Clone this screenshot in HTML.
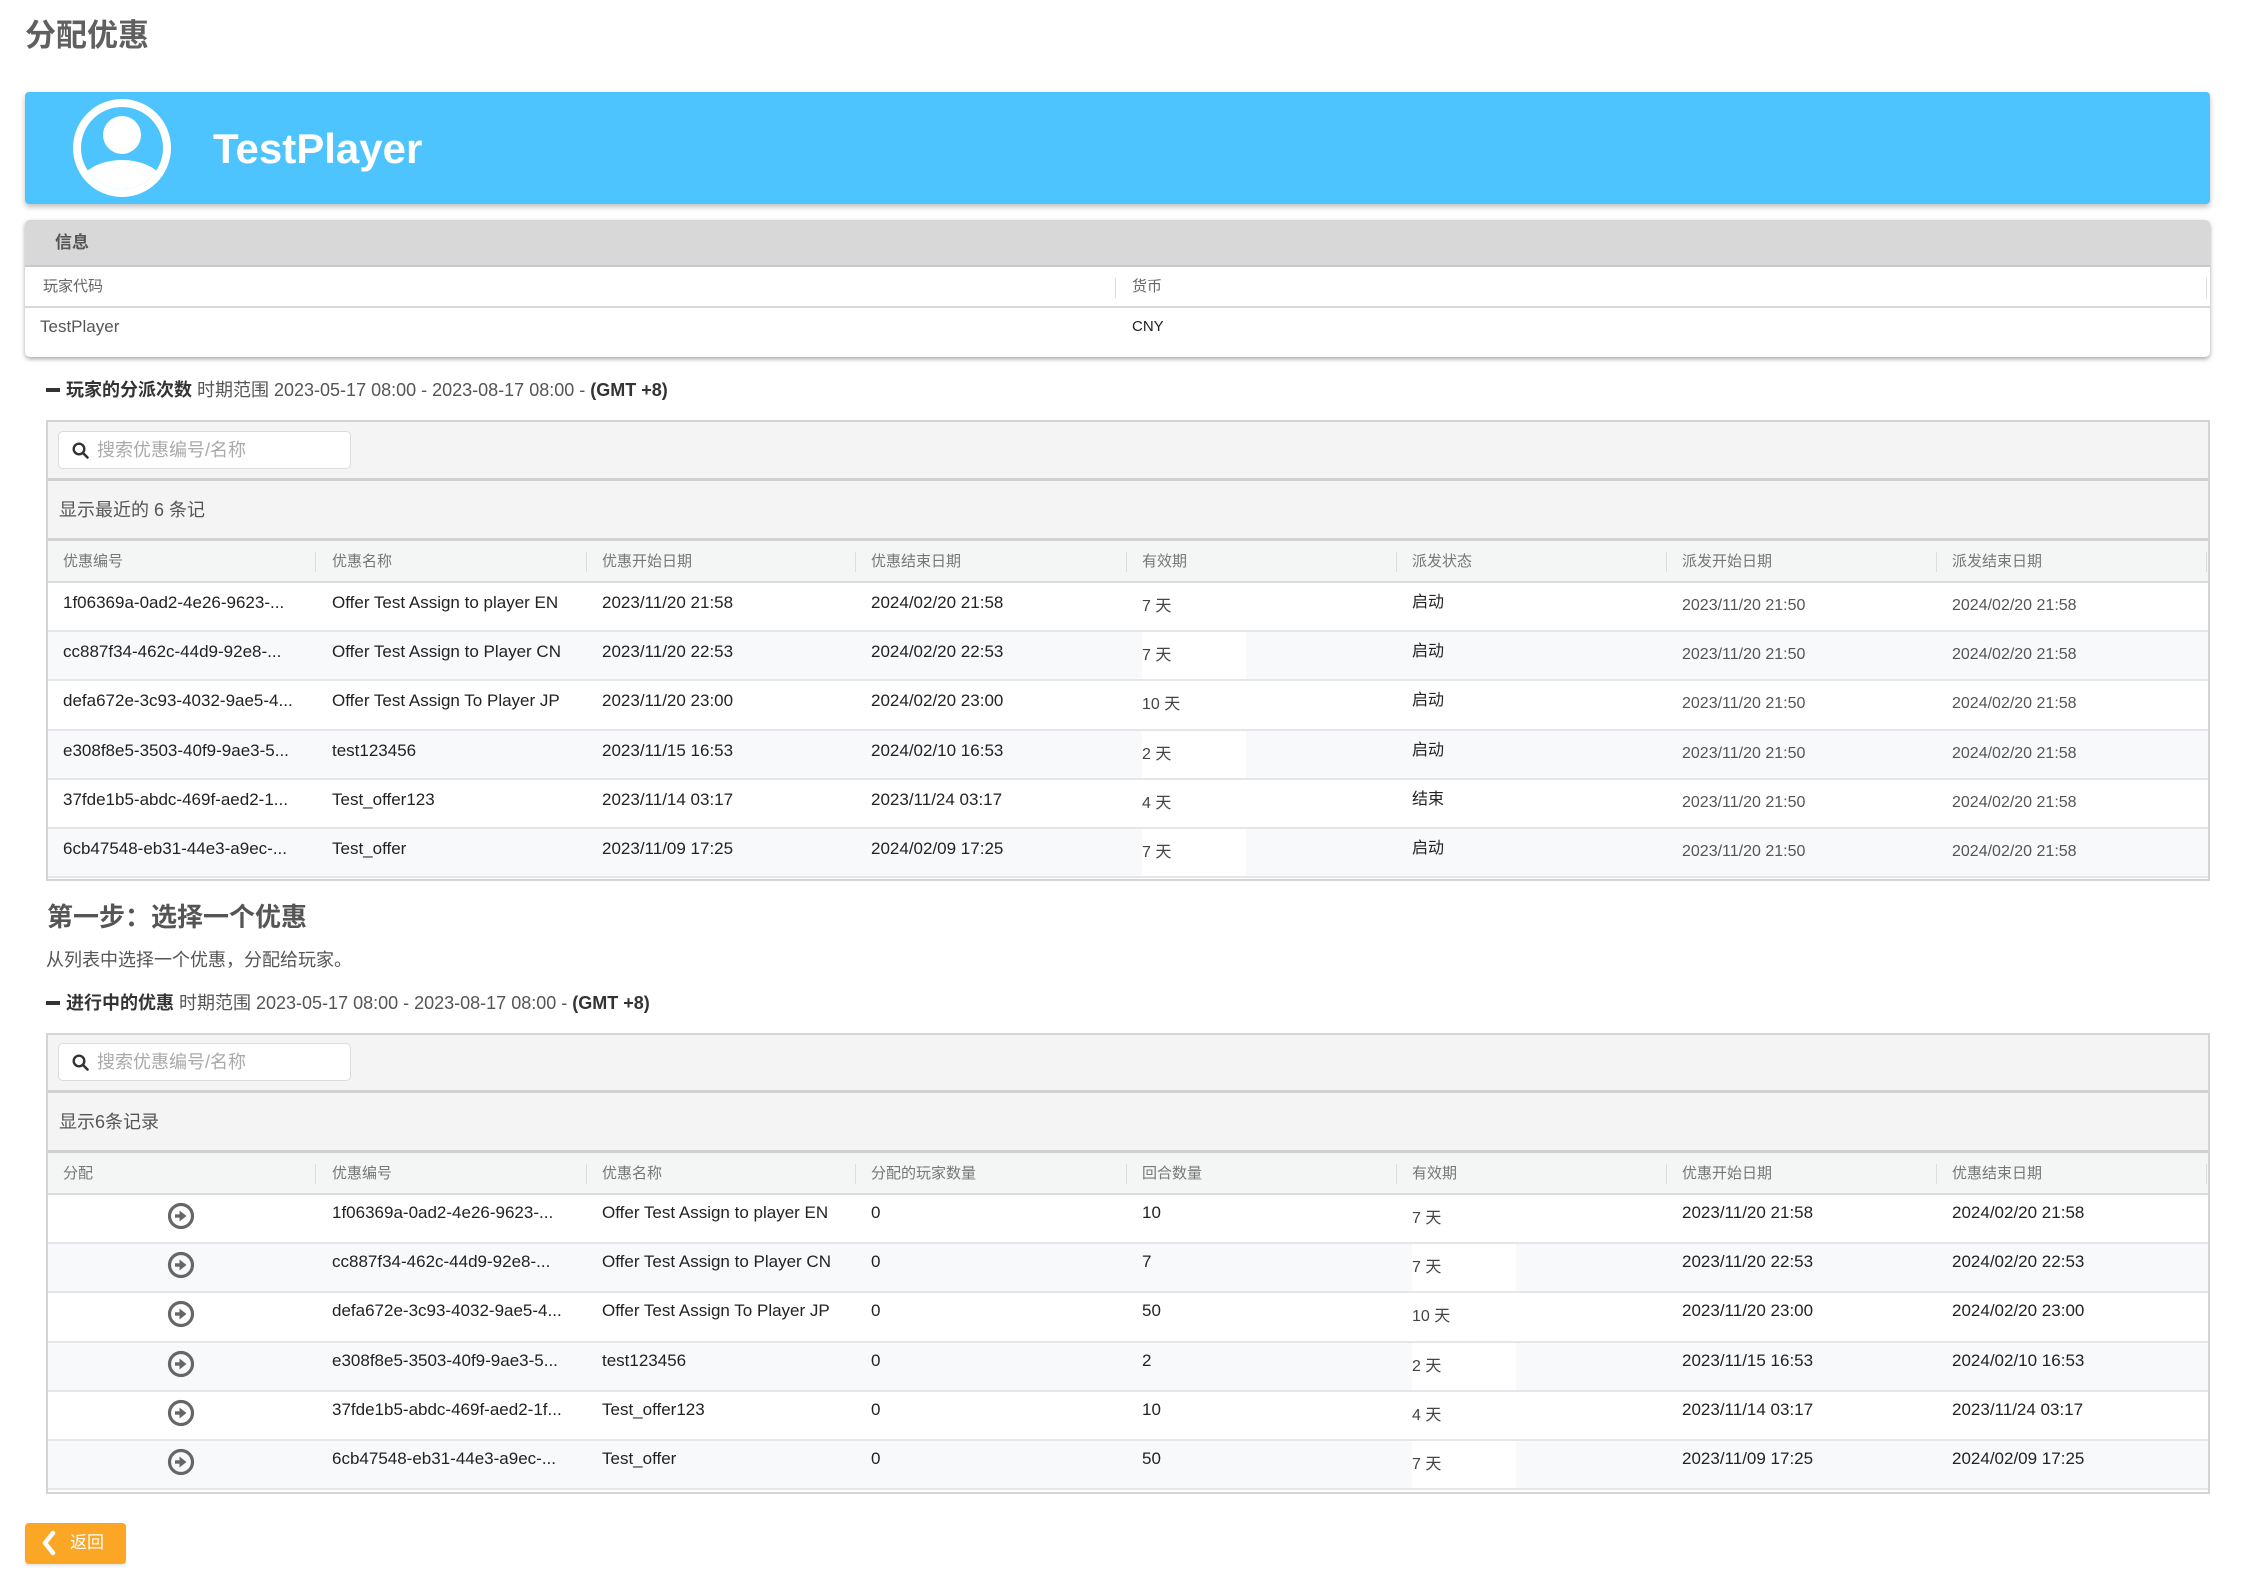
<!DOCTYPE html>
<html><head><meta charset="utf-8">
<style>
*{box-sizing:border-box;margin:0;padding:0}
body{width:2243px;height:1596px;position:relative;overflow:hidden;background:#fff;font-family:"Liberation Sans","Noto Sans CJK SC",sans-serif;}
.a{position:absolute;white-space:nowrap}
.title{left:25px;top:16px;line-height:40px;font-size:31px;font-weight:bold;color:#606060}
.banner{left:25px;top:92px;width:2185px;height:112px;background:#4dc4fd;border-radius:4px;box-shadow:0 3px 6px rgba(0,0,0,.25)}
.bname{left:213px;top:128px;line-height:42px;font-size:42px;font-weight:bold;color:#fff}
.panel{left:25px;top:220px;width:2185px;height:137px;background:#fff;border-radius:5px;box-shadow:0 2px 5px rgba(0,0,0,.35);overflow:hidden}
.sec{font-size:18px;line-height:24px;color:#555}
.sec b{color:#333}
.bar{width:14px;height:4px;background:#333}
.tbox{left:46px;width:2164px;height:461px;border:2px solid #d4d4d4;z-index:5;pointer-events:none}
.gray{left:48px;width:2160px;background:#f4f4f4}
.div{left:48px;width:2160px;height:3px;background:#d0d0d0}
.search{left:58px;width:293px;height:38px;background:#fff;border:1.5px solid #dcdcdc;border-radius:5px}
.search span{position:absolute;left:38px;top:8px;line-height:20px;font-size:18px;color:#aaa}
.search svg{position:absolute;left:13px;top:10px}
.cnt{font-size:18px;line-height:20px;color:#555}
.hdr{left:48px;width:2160px;height:42px;background:#f4f5f5;border-bottom:2px solid #dadde0}
.hdr span{position:absolute;top:11px;line-height:20px;font-size:15px;color:#777;white-space:nowrap}
.hdr i{position:absolute;top:11px;width:1px;height:20px;background:#dcdcdc}
.row{position:absolute;left:48px;width:2160px;height:49.2px;border-bottom:2px solid #e4e6e9;background:#fff}
.row.s{background:#f8f9fb}
.c{position:absolute;top:10px;line-height:20px;font-size:17px;color:#222;white-space:nowrap}
.d{position:absolute;top:0;height:47px;width:104px;background:#fff;padding-top:14px;line-height:20px;font-size:16px;color:#444;white-space:nowrap}
.g{position:absolute;top:13px;line-height:20px;font-size:16px;color:#555;white-space:nowrap}
.st{font-size:16px}
.ic{position:absolute;left:119px;top:7px}
.x1{left:15px}.x2{left:284px}.x3{left:554px}.x4{left:823px}.x5{left:1094px}.x6{left:1364px}.x7{left:1634px}.x8{left:1904px}
.btn{left:25px;top:1523px;width:101px;height:41px;background:#fca626;border-radius:4px;box-shadow:0 2px 2px rgba(0,0,0,.1)}
</style></head><body>

<div class="a title">分配优惠</div>

<div class="a banner"></div>
<svg class="a" style="left:72px;top:98px" width="100" height="100" viewBox="0 0 100 100">
<defs><clipPath id="ci"><circle cx="50" cy="50" r="41"/></clipPath></defs>
<circle cx="50" cy="50" r="49" fill="#fff"/>
<circle cx="50" cy="50" r="41" fill="#4dc4fd"/>
<circle cx="50" cy="37" r="19" fill="#fff"/>
<ellipse cx="50" cy="92" rx="45" ry="30" fill="#fff" clip-path="url(#ci)"/>
</svg>
<div class="a bname">TestPlayer</div>

<div class="a panel">
  <div class="a" style="left:0;top:0;width:2185px;height:47px;background:#d8d8d8;border-bottom:2px solid #c6cad0"></div>
  <div class="a" style="left:30px;top:13px;line-height:20px;font-size:17px;font-weight:bold;color:#555">信息</div>
  <div class="a" style="left:0;top:86px;width:2185px;height:2px;background:#d4d7db"></div>
  <div class="a" style="left:18px;top:57px;line-height:20px;font-size:15px;color:#666">玩家代码</div>
  <div class="a" style="left:1090px;top:58px;width:1px;height:20px;background:#dcdcdc"></div>
  <div class="a" style="left:2181px;top:58px;width:1px;height:20px;background:#dcdcdc"></div>
  <div class="a" style="left:1107px;top:57px;line-height:20px;font-size:15px;color:#666">货币</div>
  <div class="a" style="left:15px;top:97px;line-height:20px;font-size:17px;color:#555">TestPlayer</div>
  <div class="a" style="left:1107px;top:97px;line-height:20px;font-size:15px;color:#222">CNY</div>
</div>

<!-- Section 1 -->
<div class="a bar" style="left:46px;top:388px"></div>
<div class="a sec" style="left:66px;top:378px"><b>玩家的分派次数</b> 时期范围 2023-05-17 08:00 - 2023-08-17 08:00 - <b>(GMT +8)</b></div>

<!-- Table 1 (T=420) -->
<div class="a gray" style="top:422px;height:57px"></div>
<div class="a search" style="top:431px"><svg width="18" height="18" viewBox="0 0 18 18"><circle cx="7" cy="7" r="5.3" fill="none" stroke="#333" stroke-width="2.4"/><line x1="11" y1="11" x2="15.5" y2="15.5" stroke="#333" stroke-width="2.6" stroke-linecap="round"/></svg><span>搜索优惠编号/名称</span></div>
<div class="a div" style="top:478px"></div>
<div class="a gray" style="top:481px;height:57px"></div>
<div class="a cnt" style="left:59px;top:500px">显示最近的 6 条记</div>
<div class="a div" style="top:538px"></div>
<div class="a hdr" style="top:541px">
<span class="x1">优惠编号</span><i style="left:267px"></i>
<span class="x2">优惠名称</span><i style="left:538px"></i>
<span class="x3">优惠开始日期</span><i style="left:807px"></i>
<span class="x4">优惠结束日期</span><i style="left:1078px"></i>
<span class="x5">有效期</span><i style="left:1348px"></i>
<span class="x6">派发状态</span><i style="left:1618px"></i>
<span class="x7">派发开始日期</span><i style="left:1888px"></i>
<span class="x8">派发结束日期</span><i style="left:2158px"></i>
</div>

<div class="row" style="top:583px"><span class="c x1">1f06369a-0ad2-4e26-9623-...</span><span class="c x2">Offer Test Assign to player EN</span><span class="c x3">2023/11/20 21:58</span><span class="c x4">2024/02/20 21:58</span><span class="d x5">7 天</span><span class="c st x6">启动</span><span class="g x7">2023/11/20 21:50</span><span class="g x8">2024/02/20 21:58</span></div>
<div class="row s" style="top:632.2px"><span class="c x1">cc887f34-462c-44d9-92e8-...</span><span class="c x2">Offer Test Assign to Player CN</span><span class="c x3">2023/11/20 22:53</span><span class="c x4">2024/02/20 22:53</span><span class="d x5">7 天</span><span class="c st x6">启动</span><span class="g x7">2023/11/20 21:50</span><span class="g x8">2024/02/20 21:58</span></div>
<div class="row" style="top:681.4px"><span class="c x1">defa672e-3c93-4032-9ae5-4...</span><span class="c x2">Offer Test Assign To Player JP</span><span class="c x3">2023/11/20 23:00</span><span class="c x4">2024/02/20 23:00</span><span class="d x5">10 天</span><span class="c st x6">启动</span><span class="g x7">2023/11/20 21:50</span><span class="g x8">2024/02/20 21:58</span></div>
<div class="row s" style="top:730.6px"><span class="c x1">e308f8e5-3503-40f9-9ae3-5...</span><span class="c x2">test123456</span><span class="c x3">2023/11/15 16:53</span><span class="c x4">2024/02/10 16:53</span><span class="d x5">2 天</span><span class="c st x6">启动</span><span class="g x7">2023/11/20 21:50</span><span class="g x8">2024/02/20 21:58</span></div>
<div class="row" style="top:779.8px"><span class="c x1">37fde1b5-abdc-469f-aed2-1...</span><span class="c x2">Test_offer123</span><span class="c x3">2023/11/14 03:17</span><span class="c x4">2023/11/24 03:17</span><span class="d x5">4 天</span><span class="c st x6">结束</span><span class="g x7">2023/11/20 21:50</span><span class="g x8">2024/02/20 21:58</span></div>
<div class="row s" style="top:829px"><span class="c x1">6cb47548-eb31-44e3-a9ec-...</span><span class="c x2">Test_offer</span><span class="c x3">2023/11/09 17:25</span><span class="c x4">2024/02/09 17:25</span><span class="d x5">7 天</span><span class="c st x6">启动</span><span class="g x7">2023/11/20 21:50</span><span class="g x8">2024/02/20 21:58</span></div>
<div class="a tbox" style="top:420px"></div>

<!-- Step 1 -->
<div class="a" style="left:47px;top:901px;line-height:32px;font-size:26px;font-weight:bold;color:#555">第一步：选择一个优惠</div>
<div class="a" style="left:46px;top:948px;line-height:24px;font-size:18px;color:#555">从列表中选择一个优惠，分配给玩家。</div>

<div class="a bar" style="left:46px;top:1001px"></div>
<div class="a sec" style="left:66px;top:991px"><b>进行中的优惠</b> 时期范围 2023-05-17 08:00 - 2023-08-17 08:00 - <b>(GMT +8)</b></div>

<!-- Table 2 (T=1033) -->
<div class="a gray" style="top:1035px;height:57px"></div>
<div class="a search" style="top:1043px"><svg width="18" height="18" viewBox="0 0 18 18"><circle cx="7" cy="7" r="5.3" fill="none" stroke="#333" stroke-width="2.4"/><line x1="11" y1="11" x2="15.5" y2="15.5" stroke="#333" stroke-width="2.6" stroke-linecap="round"/></svg><span>搜索优惠编号/名称</span></div>
<div class="a div" style="top:1090px"></div>
<div class="a gray" style="top:1093px;height:57px"></div>
<div class="a cnt" style="left:59px;top:1112px">显示6条记录</div>
<div class="a div" style="top:1150px"></div>
<div class="a hdr" style="top:1153px">
<span class="x1">分配</span><i style="left:267px"></i>
<span class="x2">优惠编号</span><i style="left:538px"></i>
<span class="x3">优惠名称</span><i style="left:807px"></i>
<span class="x4">分配的玩家数量</span><i style="left:1078px"></i>
<span class="x5">回合数量</span><i style="left:1348px"></i>
<span class="x6">有效期</span><i style="left:1618px"></i>
<span class="x7">优惠开始日期</span><i style="left:1888px"></i>
<span class="x8">优惠结束日期</span><i style="left:2158px"></i>
</div>

<svg width="0" height="0" style="position:absolute"><defs><g id="arr"><circle cx="14" cy="14" r="11.5" fill="none" stroke="#666" stroke-width="3.2"/><rect x="8" y="12.3" width="6" height="3.4" fill="#666"/><polygon points="12.5,8.5 19.5,14 12.5,19.5" fill="#666"/></g></defs></svg>

<div class="row" style="top:1195px"><svg class="ic" width="28" height="28"><use href="#arr"/></svg><span class="c x2" style="top:8px">1f06369a-0ad2-4e26-9623-...</span><span class="c x3" style="top:8px">Offer Test Assign to player EN</span><span class="c x4" style="top:8px">0</span><span class="c x5" style="top:8px">10</span><span class="d x6">7 天</span><span class="c x7" style="top:8px">2023/11/20 21:58</span><span class="c x8" style="top:8px">2024/02/20 21:58</span></div>
<div class="row s" style="top:1244.2px"><svg class="ic" width="28" height="28"><use href="#arr"/></svg><span class="c x2" style="top:8px">cc887f34-462c-44d9-92e8-...</span><span class="c x3" style="top:8px">Offer Test Assign to Player CN</span><span class="c x4" style="top:8px">0</span><span class="c x5" style="top:8px">7</span><span class="d x6">7 天</span><span class="c x7" style="top:8px">2023/11/20 22:53</span><span class="c x8" style="top:8px">2024/02/20 22:53</span></div>
<div class="row" style="top:1293.4px"><svg class="ic" width="28" height="28"><use href="#arr"/></svg><span class="c x2" style="top:8px">defa672e-3c93-4032-9ae5-4...</span><span class="c x3" style="top:8px">Offer Test Assign To Player JP</span><span class="c x4" style="top:8px">0</span><span class="c x5" style="top:8px">50</span><span class="d x6">10 天</span><span class="c x7" style="top:8px">2023/11/20 23:00</span><span class="c x8" style="top:8px">2024/02/20 23:00</span></div>
<div class="row s" style="top:1342.6px"><svg class="ic" width="28" height="28"><use href="#arr"/></svg><span class="c x2" style="top:8px">e308f8e5-3503-40f9-9ae3-5...</span><span class="c x3" style="top:8px">test123456</span><span class="c x4" style="top:8px">0</span><span class="c x5" style="top:8px">2</span><span class="d x6">2 天</span><span class="c x7" style="top:8px">2023/11/15 16:53</span><span class="c x8" style="top:8px">2024/02/10 16:53</span></div>
<div class="row" style="top:1391.8px"><svg class="ic" width="28" height="28"><use href="#arr"/></svg><span class="c x2" style="top:8px">37fde1b5-abdc-469f-aed2-1f...</span><span class="c x3" style="top:8px">Test_offer123</span><span class="c x4" style="top:8px">0</span><span class="c x5" style="top:8px">10</span><span class="d x6">4 天</span><span class="c x7" style="top:8px">2023/11/14 03:17</span><span class="c x8" style="top:8px">2023/11/24 03:17</span></div>
<div class="row s" style="top:1441px"><svg class="ic" width="28" height="28"><use href="#arr"/></svg><span class="c x2" style="top:8px">6cb47548-eb31-44e3-a9ec-...</span><span class="c x3" style="top:8px">Test_offer</span><span class="c x4" style="top:8px">0</span><span class="c x5" style="top:8px">50</span><span class="d x6">7 天</span><span class="c x7" style="top:8px">2023/11/09 17:25</span><span class="c x8" style="top:8px">2024/02/09 17:25</span></div>
<div class="a tbox" style="top:1033px"></div>

<!-- Back button -->
<div class="a btn"></div>
<svg class="a" style="left:40px;top:1530px" width="18" height="26" viewBox="0 0 18 26"><polyline points="13,3 5,13 13,23" fill="none" stroke="#fff" stroke-width="4.5" stroke-linecap="round" stroke-linejoin="round"/></svg>
<div class="a" style="left:70px;top:1533px;line-height:20px;font-size:17px;color:#fff">返回</div>

</body></html>
